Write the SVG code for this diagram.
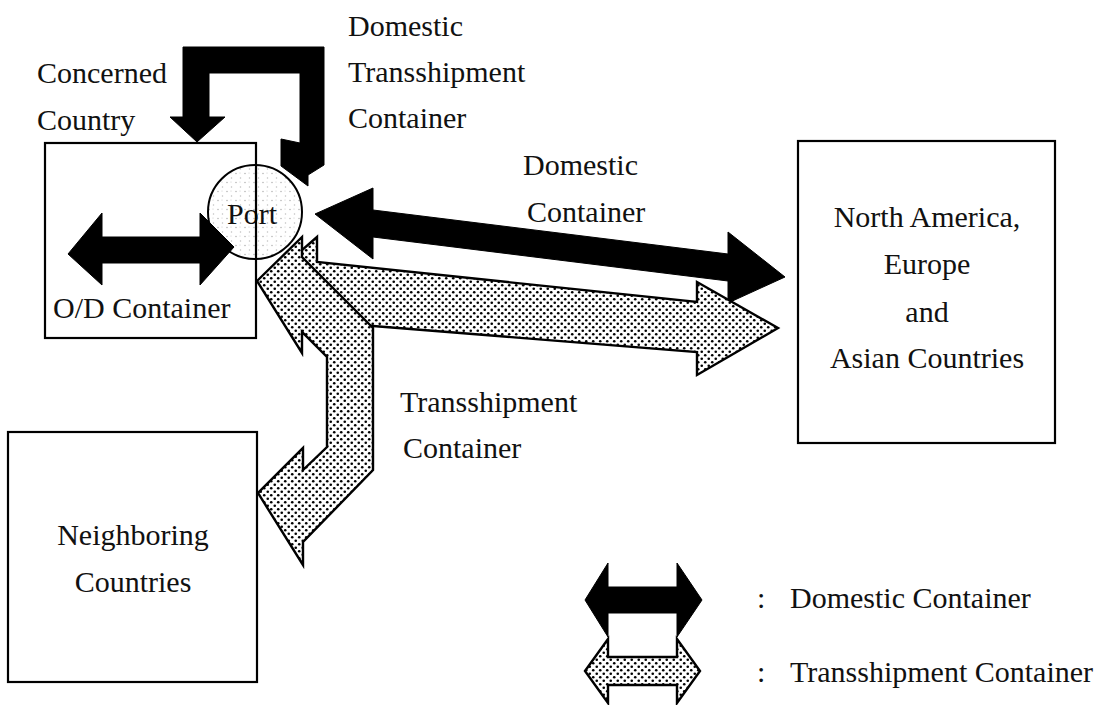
<svg xmlns="http://www.w3.org/2000/svg" width="1112" height="705" viewBox="0 0 1112 705">
  <defs>
    <!-- dense dot screen used for transshipment flows -->
    <pattern id="dots" width="7" height="7" patternUnits="userSpaceOnUse">
      <rect width="7" height="7" fill="#fff"/>
      <circle cx="1.75" cy="1.75" r="1.3" fill="#000"/>
      <circle cx="5.25" cy="5.25" r="1.3" fill="#000"/>
    </pattern>
    <!-- faint speckle for the port -->
    <pattern id="speck" width="9" height="9" patternUnits="userSpaceOnUse">
      <rect width="9" height="9" fill="#fff"/>
      <circle cx="2" cy="2.5" r="0.75" fill="#b0b0b0"/>
      <circle cx="6.5" cy="7" r="0.75" fill="#c0c0c0"/>
      <circle cx="6" cy="2" r="0.55" fill="#c8c8c8"/>
    </pattern>
    <style>
      text { font-family: "Liberation Serif", "Times New Roman", serif; font-size: 30px; fill: #111; }
      .mid { text-anchor: middle; }
      .box { fill: none; stroke: #000; stroke-width: 2.2; }
      .solid { fill: #000; stroke: #000; stroke-width: 1; stroke-linejoin: miter; }
      .dotted { fill: url(#dots); stroke: #000; stroke-width: 2.4; stroke-linejoin: miter; }
    </style>
  </defs>

  <rect width="1112" height="705" fill="#fff"/>

  <!-- Port -->
  <g id="port">
    <circle cx="255" cy="212" r="47" fill="url(#speck)" stroke="#000" stroke-width="2"/>
    <text class="mid" x="252" y="224">Port</text>
  </g>

  <!-- Concerned country -->
  <g id="concerned-country">
    <rect class="box" x="45" y="143" width="211" height="195"/>
    <text x="37" y="83">Concerned</text>
    <text x="37" y="130">Country</text>
    <text x="53" y="318">O/D Container</text>
  </g>

  <!-- Neighboring countries -->
  <g id="neighboring-countries">
    <rect class="box" x="8" y="432" width="249" height="250"/>
    <text class="mid" x="133" y="545">Neighboring</text>
    <text class="mid" x="133" y="592">Countries</text>
  </g>

  <!-- Overseas destinations -->
  <g id="overseas">
    <rect class="box" x="798" y="141" width="257" height="302"/>
    <text class="mid" x="927" y="227">North America,</text>
    <text class="mid" x="927" y="274">Europe</text>
    <text class="mid" x="927" y="322">and</text>
    <text class="mid" x="927" y="368">Asian Countries</text>
  </g>

  <!-- Flow labels -->
  <g id="labels">
    <text x="348" y="36">Domestic</text>
    <text x="348" y="82">Transshipment</text>
    <text x="348" y="128">Container</text>
    <text x="523" y="175">Domestic</text>
    <text x="527" y="222">Container</text>
    <text x="400" y="412">Transshipment</text>
    <text x="403" y="458">Container</text>
  </g>

  <!-- Flows -->
  <g id="connectors">
    <!-- O/D container inside the country -->
    <polygon class="solid" points="68,254 102,213 102,237 200,237 200,213 234,247 200,285 200,263 102,263 102,285"/>
    <!-- domestic transshipment loop -->
    <polygon class="solid" points="183,47 324,47 324,165 308,175 308,186 281,166 281,139 300,143 300,73 209,73 209,117 225,117 197,142 170,117 183,117"/>
    <!-- domestic container to overseas -->
    <polygon class="solid" points="315,214 373,188 373,210 728,254 728,232 785,277 728,303 728,281 373,237 373,259"/>
    <!-- transshipment to overseas -->
    <polygon class="dotted" points="262,285 317,237 317,262 697,302 697,282 778,328 697,375 697,352 373,326 317,321 317,337"/>
    <!-- transshipment to neighboring countries -->
    <polygon class="dotted" points="257,281 302,237 302,257 373,328 373,470 303,542 303,565 258,493 303,448 303,470 327,447 327,357 302,332 302,353"/>
  </g>

  <!-- Legend -->
  <g id="legend">
    <polygon class="solid" points="585,600 608,563 608,587 677,587 677,563 702,600 677,637 677,613 608,613 608,637"/>
    <polygon class="dotted" points="585,671 608,639 608,657 677,657 677,639 700,671 677,703 677,685 608,685 608,703"/>
    <text x="757" y="608">:</text>
    <text x="790" y="608">Domestic Container</text>
    <text x="757" y="682">:</text>
    <text x="790" y="682">Transshipment Container</text>
  </g>
</svg>
